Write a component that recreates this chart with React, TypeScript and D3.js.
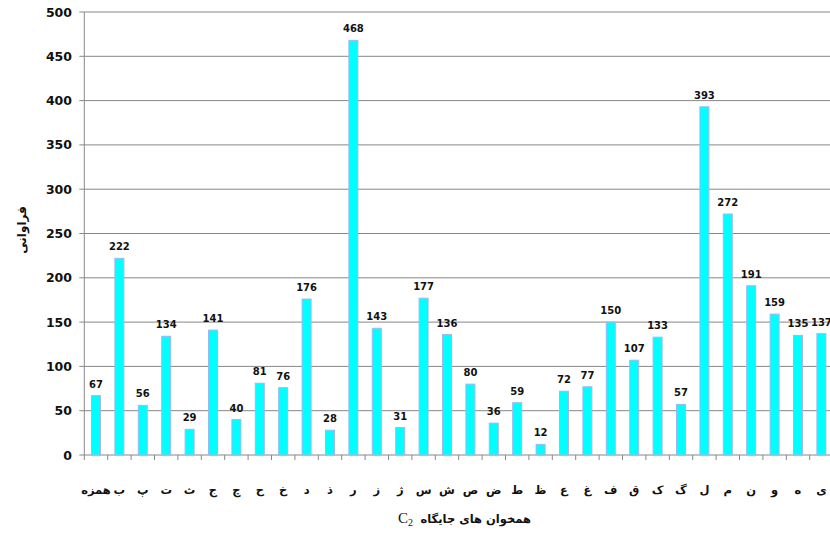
import React from "react";
import * as d3 from "d3";

const categories = ["همزه","ب","پ","ت","ث","ج","چ","ح","خ","د","ذ","ر","ز","ژ","س","ش","ص","ض","ط","ظ","ع","غ","ف","ق","ک","گ","ل","م","ن","و","ه","ی"];
const values = [67,222,56,134,29,141,40,81,76,176,28,468,143,31,177,136,80,36,59,12,72,77,150,107,133,57,393,272,191,159,135,137];
const yTicks = [0,50,100,150,200,250,300,350,400,450,500];
const yTitle = "فراوانی";
const xTitle = "همخوان های جایگاه";

const W = 830, H = 533;
const left = 84.3, top = 12, bottom = 455;
const step = 23.4;

export default function App() {
  const x = d3.scaleBand<string>().domain(categories).range([left, left + step * categories.length]).paddingInner(0.615).paddingOuter(0.3075);
  const y = d3.scaleLinear().domain([0, 500]).range([bottom, top]);
  const numFont = "'DejaVu Sans', sans-serif";
  const faFont = "'DejaVu Sans', sans-serif";
  return (
    <div style={{ position: "fixed", left: 0, top: 0, width: W, height: H, background: "#fff" }}>
      <svg width={W} height={H} style={{ display: "block" }}>
        <rect x={0} y={0} width={W} height={H} fill="#fff" />
        {yTicks.map(t => (
          <g key={t}>
            {t > 0 && <line x1={left} x2={W} y1={y(t)} y2={y(t)} stroke="#878787" strokeWidth={1} />}
            <line x1={left - 5} x2={left} y1={y(t)} y2={y(t)} stroke="#878787" strokeWidth={1} />
            <text x={72} y={y(t) + 4.5} textAnchor="end" fontFamily={numFont} fontWeight="bold" fontSize={12.5} fill="#111">{t}</text>
          </g>
        ))}
        <line x1={left} x2={left} y1={top} y2={bottom} stroke="#878787" strokeWidth={1} />
        <line x1={left} x2={W} y1={bottom} y2={bottom} stroke="#878787" strokeWidth={1} />
        {d3.range(categories.length + 1).map(i => (
          <line key={i} x1={left + i * step} x2={left + i * step} y1={bottom} y2={bottom + 5} stroke="#878787" strokeWidth={1} />
        ))}
        {categories.map((c, i) => (
          <g key={c}>
            <rect x={x(c)!} y={y(values[i])} width={x.bandwidth()} height={bottom - y(values[i])} fill="#00FFFF" stroke="#A0B8F0" strokeWidth={1} />
            <text x={x(c)! + x.bandwidth() / 2} y={y(values[i]) - 8} textAnchor="middle" fontFamily={numFont} fontWeight="bold" fontSize={10} fill="#111">{values[i]}</text>
            <text x={x(c)! + x.bandwidth() / 2} y={494} textAnchor="middle" fontFamily={faFont} fontWeight="bold" fontSize={11.5} fill="#111" direction="rtl">{c}</text>
          </g>
        ))}
        <text transform={`translate(26,230) rotate(-90)`} textAnchor="middle" fontFamily={faFont} fontWeight="bold" fontSize={12} fill="#111" direction="rtl">{yTitle}</text>
        <text x={531} y={523} textAnchor="start" fontFamily={faFont} fontWeight="bold" fontSize={11.5} fill="#111" direction="rtl">{xTitle}</text>
        <text x={398} y={523} fontFamily="'Liberation Serif', serif" fontSize={15} fill="#111">C<tspan fontSize={10} dy={3}>2</tspan></text>
      </svg>
    </div>
  );
}
